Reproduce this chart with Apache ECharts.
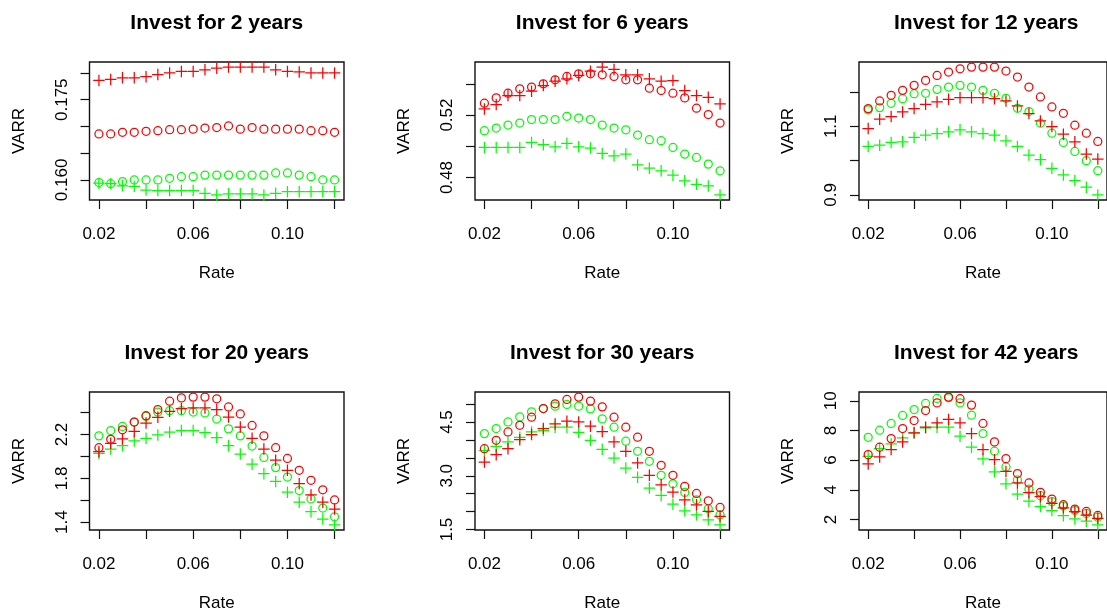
<!DOCTYPE html>
<html>
<head>
<meta charset="utf-8">
<script src="https://cdn.jsdelivr.net/npm/echarts@6/dist/echarts.min.js"></script>
<style>
  html, body { margin: 0; padding: 0; background: #fff; overflow: hidden; }
  #chart { width: 1107px; height: 613px; }
</style>
</head>
<body>
<div id="chart"></div>
<script>
// Interest rates on the horizontal axis (shared by every panel)
const rates = [0.020, 0.025, 0.030, 0.035, 0.040, 0.045, 0.050, 0.055, 0.060, 0.065, 0.070,
               0.075, 0.080, 0.085, 0.090, 0.095, 0.100, 0.105, 0.110, 0.115, 0.120];
const rateTicks = [0.02, 0.04, 0.06, 0.08, 0.10, 0.12];
const rateLabels = ['0.02', '0.06', '0.10'];

const titles = ['Invest for 2 years', 'Invest for 6 years', 'Invest for 12 years',
                'Invest for 20 years', 'Invest for 30 years', 'Invest for 42 years'];

// Invest for 2 years
const red2Circle   = [0.1686, 0.1686, 0.1689, 0.1689, 0.1691, 0.1692, 0.1694, 0.1694, 0.1695, 0.1697, 0.1698, 0.1701, 0.1695, 0.1698, 0.1695, 0.1695, 0.1695, 0.1695, 0.1692, 0.1692, 0.1689];
const red2Plus     = [0.1786, 0.1788, 0.1791, 0.1791, 0.1793, 0.1797, 0.1800, 0.1803, 0.1803, 0.1806, 0.1809, 0.1811, 0.1811, 0.1811, 0.1811, 0.1806, 0.1803, 0.1802, 0.1800, 0.1800, 0.1800];
const green2Circle = [0.1595, 0.1593, 0.1597, 0.1600, 0.1600, 0.1600, 0.1603, 0.1606, 0.1606, 0.1609, 0.1609, 0.1609, 0.1609, 0.1609, 0.1609, 0.1613, 0.1613, 0.1609, 0.1606, 0.1600, 0.1600];
const green2Plus   = [0.1594, 0.1593, 0.1589, 0.1588, 0.1581, 0.1580, 0.1580, 0.1580, 0.1580, 0.1575, 0.1572, 0.1574, 0.1574, 0.1574, 0.1572, 0.1575, 0.1578, 0.1578, 0.1578, 0.1578, 0.1578];
const varrTicks2  = [0.160, 0.165, 0.170, 0.175, 0.180];
const varrLabels2 = ['0.160', '0.175'];

// Invest for 6 years
const red6Circle   = [0.5276, 0.5310, 0.5340, 0.5368, 0.5379, 0.5400, 0.5426, 0.5447, 0.5464, 0.5464, 0.5458, 0.5447, 0.5426, 0.5426, 0.5372, 0.5357, 0.5340, 0.5310, 0.5244, 0.5203, 0.5149];
const red6Plus     = [0.5239, 0.5267, 0.5325, 0.5325, 0.5353, 0.5389, 0.5417, 0.5432, 0.5454, 0.5481, 0.5507, 0.5492, 0.5458, 0.5458, 0.5432, 0.5417, 0.5421, 0.5357, 0.5325, 0.5314, 0.5271];
const green6Circle = [0.5100, 0.5117, 0.5136, 0.5149, 0.5171, 0.5171, 0.5171, 0.5192, 0.5181, 0.5171, 0.5136, 0.5117, 0.5106, 0.5072, 0.5042, 0.5036, 0.4993, 0.4950, 0.4929, 0.4886, 0.4843];
const green6Plus   = [0.4993, 0.4993, 0.4993, 0.4993, 0.5025, 0.5010, 0.4997, 0.5019, 0.4997, 0.4989, 0.4954, 0.4939, 0.4950, 0.4881, 0.4860, 0.4843, 0.4815, 0.4779, 0.4757, 0.4746, 0.4689];
const varrTicks6  = [0.48, 0.50, 0.52, 0.54];
const varrLabels6 = ['0.48', '0.52'];

// Invest for 12 years
const red12Circle   = [1.1516, 1.1739, 1.1903, 1.2048, 1.2194, 1.2339, 1.2484, 1.2581, 1.2678, 1.2726, 1.2726, 1.2726, 1.2610, 1.2436, 1.2145, 1.1855, 1.1565, 1.1380, 1.1032, 1.0800, 1.0558];
const red12Plus     = [1.0935, 1.1206, 1.1284, 1.1419, 1.1516, 1.1642, 1.1710, 1.1787, 1.1835, 1.1835, 1.1835, 1.1806, 1.1739, 1.1593, 1.1371, 1.1158, 1.0993, 1.0771, 1.0548, 1.0190, 1.0045];
const green12Circle = [1.1477, 1.1545, 1.1671, 1.1806, 1.1952, 1.1961, 1.2077, 1.2145, 1.2194, 1.2145, 1.2048, 1.1961, 1.1816, 1.1526, 1.1429, 1.1090, 1.0800, 1.0529, 1.0267, 0.9996, 0.9706];
const green12Plus   = [1.0413, 1.0451, 1.0529, 1.0548, 1.0674, 1.0742, 1.0790, 1.0838, 1.0897, 1.0838, 1.0790, 1.0742, 1.0577, 1.0413, 1.0161, 1.0025, 0.9774, 0.9581, 0.9416, 0.9223, 0.9000];
const varrTicks12  = [0.9, 1.0, 1.1, 1.2];
const varrLabels12 = ['0.9', '1.1'];

// Invest for 20 years
const red20Circle   = [2.080, 2.157, 2.243, 2.314, 2.372, 2.428, 2.505, 2.535, 2.542, 2.542, 2.527, 2.452, 2.388, 2.283, 2.188, 2.080, 1.982, 1.874, 1.782, 1.695, 1.603];
const red20Plus     = [2.043, 2.120, 2.160, 2.228, 2.305, 2.357, 2.412, 2.437, 2.443, 2.443, 2.428, 2.360, 2.268, 2.166, 2.068, 1.966, 1.874, 1.751, 1.649, 1.582, 1.520];
const green20Circle = [2.188, 2.237, 2.274, 2.314, 2.366, 2.406, 2.418, 2.418, 2.406, 2.397, 2.342, 2.252, 2.188, 2.095, 1.991, 1.898, 1.812, 1.689, 1.612, 1.529, 1.449];
const green20Plus   = [2.028, 2.068, 2.098, 2.142, 2.166, 2.197, 2.222, 2.237, 2.237, 2.218, 2.172, 2.098, 2.022, 1.929, 1.843, 1.772, 1.674, 1.582, 1.495, 1.428, 1.375];
const varrTicks20  = [1.4, 1.6, 1.8, 2.0, 2.2, 2.4];
const varrLabels20 = ['1.4', '1.8', '2.2'];

// Invest for 30 years
const red30Circle   = [3.757, 3.990, 4.224, 4.410, 4.636, 4.877, 5.008, 5.130, 5.196, 5.084, 4.924, 4.636, 4.356, 4.076, 3.684, 3.292, 3.012, 2.704, 2.508, 2.301, 2.116];
const red30Plus     = [3.384, 3.589, 3.757, 4.009, 4.149, 4.317, 4.448, 4.523, 4.504, 4.383, 4.233, 3.944, 3.684, 3.357, 3.012, 2.749, 2.544, 2.329, 2.189, 2.004, 1.864];
const green30Circle = [4.177, 4.317, 4.504, 4.644, 4.784, 4.877, 4.944, 4.990, 4.944, 4.868, 4.588, 4.356, 3.964, 3.684, 3.404, 3.012, 2.777, 2.536, 2.329, 2.077, 1.909];
const green30Plus   = [3.701, 3.824, 3.944, 4.075, 4.224, 4.261, 4.356, 4.356, 4.215, 3.990, 3.738, 3.496, 3.216, 2.956, 2.656, 2.452, 2.208, 2.021, 1.909, 1.769, 1.629];
const varrTicks30  = [1.5, 2.0, 2.5, 3.0, 3.5, 4.0, 4.5, 5.0];
const varrLabels30 = ['1.5', '3.0', '4.5'];

// Invest for 42 years
const red42Circle   = [6.37, 6.87, 7.45, 8.13, 8.67, 9.34, 9.86, 10.25, 10.14, 9.71, 8.47, 7.23, 6.10, 5.09, 4.46, 3.83, 3.37, 2.99, 2.70, 2.54, 2.27];
const red42Plus     = [5.74, 6.21, 6.71, 7.23, 7.84, 8.22, 8.51, 8.74, 8.51, 7.79, 6.71, 6.03, 5.24, 4.46, 3.80, 3.53, 3.08, 2.78, 2.52, 2.29, 2.07];
const green42Circle = [7.54, 8.02, 8.47, 9.01, 9.41, 9.82, 10.16, 10.20, 9.86, 9.03, 7.79, 6.60, 5.54, 4.66, 4.05, 3.60, 3.20, 2.90, 2.60, 2.40, 2.15];
const green42Plus   = [6.26, 6.78, 7.09, 7.50, 7.84, 8.17, 8.22, 8.22, 7.61, 6.87, 6.08, 5.21, 4.40, 3.70, 3.23, 2.87, 2.60, 2.25, 2.03, 1.88, 1.63];
const varrTicks42  = [2, 4, 6, 8, 10];
const varrLabels42 = ['2', '4', '6', '8', '10'];

const panels = [
  { title: titles[0], gc: green2Circle,  gp: green2Plus,  rc: red2Circle,  rp: red2Plus,  ticks: varrTicks2,  labels: varrLabels2 },
  { title: titles[1], gc: green6Circle,  gp: green6Plus,  rc: red6Circle,  rp: red6Plus,  ticks: varrTicks6,  labels: varrLabels6 },
  { title: titles[2], gc: green12Circle, gp: green12Plus, rc: red12Circle, rp: red12Plus, ticks: varrTicks12, labels: varrLabels12 },
  { title: titles[3], gc: green20Circle, gp: green20Plus, rc: red20Circle, rp: red20Plus, ticks: varrTicks20, labels: varrLabels20 },
  { title: titles[4], gc: green30Circle, gp: green30Plus, rc: red30Circle, rp: red30Plus, ticks: varrTicks30, labels: varrLabels30 },
  { title: titles[5], gc: green42Circle, gp: green42Plus, rc: red42Circle, rp: red42Plus, ticks: varrTicks42, labels: varrLabels42 }
];

// ---- layout & styling ----
const FONT = '"Liberation Sans", Arial, Helvetica, sans-serif';
const INK = '#111';
const RED = '#ff0000';
const GREEN = '#00ff00';
const colLeft = [89.5, 475, 859];
const rowTop = [62, 392];
const boxW = 254.5;
const boxH = 138;
const PLUS = 'path://M0,5L10,5M5,0L5,10';

// axis range padded by 4% on each side of the data
function padded(values) {
  const lo = Math.min(...values), hi = Math.max(...values);
  const pad = (hi - lo) * 0.04;
  return [lo - pad, hi + pad];
}
function labelFor(labels) {
  return v => {
    const hit = labels.find(s => Math.abs(parseFloat(s) - v) < 1e-9);
    return hit === undefined ? '' : hit;
  };
}

const grid = [], xAxis = [], yAxis = [], series = [], title = [];
const xRange = padded(rates);

panels.forEach((p, i) => {
  const col = i % 3, row = Math.floor(i / 3);
  const left = colLeft[col], top = rowTop[row];
  grid.push({
    left: left, top: top, width: boxW, height: boxH,
    show: true, borderColor: INK, borderWidth: 1.4, backgroundColor: 'transparent'
  });
  title.push({
    text: p.title, left: left + boxW / 2, top: top - 49, textAlign: 'center', padding: 0,
    textStyle: { fontFamily: FONT, fontSize: 21, fontWeight: 'bold', color: '#000' }
  });
  xAxis.push({
    type: 'value', gridIndex: i, min: xRange[0], max: xRange[1],
    name: 'Rate', nameLocation: 'middle', nameGap: 65,
    nameTextStyle: { fontFamily: FONT, fontSize: 17, color: '#000' },
    axisLine: { show: false }, splitLine: { show: false },
    axisTick: { show: true, length: 9, customValues: rateTicks, lineStyle: { color: INK, width: 1.2 } },
    axisLabel: { customValues: rateLabels.map(parseFloat), formatter: labelFor(rateLabels),
                 margin: 25.5, fontFamily: FONT, fontSize: 17, color: '#000' }
  });
  const yr = padded([].concat(p.gc, p.gp, p.rc, p.rp));
  yAxis.push({
    type: 'value', gridIndex: i, min: yr[0], max: yr[1],
    name: 'VARR', nameLocation: 'middle', nameGap: 62, nameRotate: 90,
    nameTextStyle: { fontFamily: FONT, fontSize: 17, color: '#000' },
    axisLine: { show: false }, splitLine: { show: false },
    axisTick: { show: true, length: 9, customValues: p.ticks, lineStyle: { color: INK, width: 1.2 } },
    axisLabel: { customValues: p.labels.map(parseFloat), formatter: labelFor(p.labels),
                 rotate: 90, margin: 19, fontFamily: FONT, fontSize: 17, color: '#000' }
  });
  const mk = (vals, color, symbol, size) => ({
    type: 'scatter', xAxisIndex: i, yAxisIndex: i, silent: true,
    data: rates.map((r, k) => [r, vals[k]]),
    symbol: symbol, symbolSize: size,
    itemStyle: { color: 'transparent', borderColor: color, borderWidth: 1.25, opacity: 1 }
  });
  series.push(mk(p.gc, GREEN, 'circle', 8));
  series.push(mk(p.gp, GREEN, PLUS, 11.5));
  series.push(mk(p.rc, RED, 'circle', 8));
  series.push(mk(p.rp, RED, PLUS, 11.5));
});

const chart = echarts.init(document.getElementById('chart'), null, { renderer: 'canvas' });
chart.setOption({
  animation: false,
  backgroundColor: '#fff',
  title: title,
  grid: grid,
  xAxis: xAxis,
  yAxis: yAxis,
  series: series
});
</script>
</body>
</html>
